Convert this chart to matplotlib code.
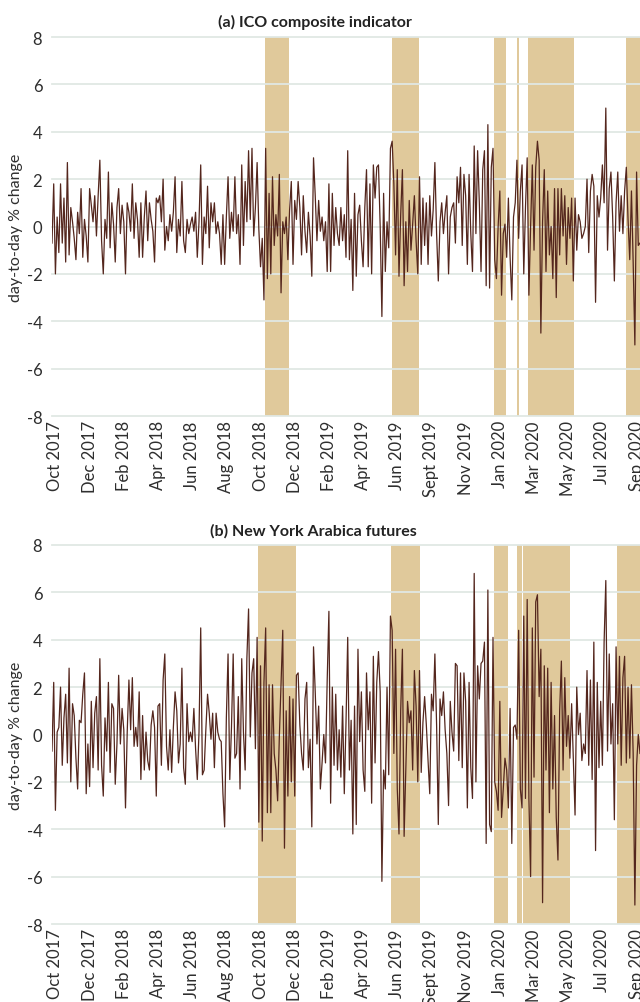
import numpy as np
import matplotlib
matplotlib.use('Agg')
import matplotlib.pyplot as plt

# x axis labels, one every 20 points of the series
tick_labels = ["Oct 2017", "Dec 2017", "Feb 2018", "Apr 2018", "Jun 2018", "Aug 2018",
               "Oct 2018", "Dec 2018", "Feb 2019", "Apr 2019", "Jun 2019", "Sept 2019",
               "Nov 2019", "Jan 2020", "Mar 2020", "May 2020", "Jul 2020", "Sep 2020"]

# (a) ICO composite indicator, day-to-day % change
ico_change = [
    -0.7, 1.8, -2.0, 0.4, -1.1, 1.8, -0.7, 1.2, -1.5, 2.7,
    -1.2, 0.8, 0.2, -0.5, -1.4, 0.6, -0.3, 1.6, -1.3, 0.3,
    -0.4, -1.5, 1.6, 0.9, 0.2, 1.3, -0.4, 1.3, 2.8, -0.6,
    -2.0, 0.3, -0.5, 2.3, -0.9, 1.0, 0.1, -1.5, 0.8, 1.6,
    -0.3, 0.9, 0.2, -2.0, 1.0, 0.6, -0.2, 1.8, -0.5, 1.0,
    0.3, -1.3, 1.0, -1.3, 0.4, 1.5, -0.6, 1.0, 0.3, -0.2,
    -1.5, 1.2, 1.0, 1.3, 0.2, 2.0, -1.0, 0.0, -0.6, 0.5,
    -0.2, 0.6, 2.1, -1.1, 0.3, -0.4, 1.9, -0.6, -1.1, 0.3,
    -0.3, 0.1, 0.4, -0.2, 0.6, -1.3, 0.2, 2.6, -1.6, 0.4,
    -0.3, 1.7, -0.9, 1.0, 0.2, 1.0, -0.3, 0.2, -0.3, -1.6,
    0.5, -1.6, 0.4, 2.1, -0.5, 0.6, -0.2, 2.1, -0.3, 0.5,
    -1.6, 2.6, -0.8, 1.9, 0.2, 3.2, 0.3, 3.3, -0.4, 0.8,
    2.7, -0.1, -1.7, -0.5, -3.1, 3.3, -2.2, 1.4, -2.0, 2.1,
    -0.8, 0.5, -0.4, 2.2, -2.8, 0.2, -0.3, 0.4, -1.4, 0.7,
    1.9, -1.6, 1.1, 0.3, 1.9, 0.8, -1.2, 1.3, -0.2, -1.1,
    0.6, -0.4, -2.1, 2.9, 1.3, -0.6, 1.1, -0.2, 0.4, -0.6,
    0.2, -1.9, 1.8, -1.9, 1.4, -0.8, 0.8, -0.3, -0.8, 0.8,
    -0.6, 0.5, -1.3, 3.2, -1.4, 0.3, -2.7, 1.4, -2.1, 0.5,
    0.9, -0.6, -1.7, 0.8, 2.4, -1.7, 1.8, -2.0, 2.6, 1.2,
    2.5, 2.6, 0.0, -3.8, 1.4, -1.9, 0.2, -0.9, 3.3, 3.6,
    1.8, -1.2, 2.4, -2.1, 0.5, 2.4, -2.5, 0.2, -1.9, 1.1,
    -1.0, 0.1, 1.3, -0.6, -2.0, 2.1, -1.6, 1.2, -0.8, 1.0,
    -1.6, 1.3, -0.4, 0.7, 2.7, -0.3, -2.3, 0.2, 1.0, -0.3,
    0.6, 1.3, -2.0, 0.4, 0.8, 1.0, -0.7, 2.1, 1.0, 2.5,
    -0.8, 2.2, 1.3, -1.6, 2.2, -0.3, -1.9, 3.4, -0.3, 3.2,
    1.0, -1.9, 2.4, 3.2, -2.5, 4.3, -2.6, 2.5, 3.3, -1.4,
    -2.2, 0.0, 1.5, -2.9, -0.3, 0.1, -1.3, 1.2, -1.3, -3.1,
    0.4, 1.0, 2.8, -0.5, 1.5, 2.6, -2.0, 0.8, 2.9, -2.9,
    0.0, 2.6, -1.0, 2.5, 3.6, 2.8, -4.5, 0.2, 2.4, -1.9,
    1.5, -1.2, 0.0, -2.2, 1.6, -3.0, 1.6, -1.2, 1.6, -0.4,
    1.3, -1.6, 0.8, -0.5, 1.2, -2.3, 1.2, -1.0, 0.5, 0.2,
    -0.5, -0.3, 0.0, 2.0, -1.1, 1.5, 2.2, 1.7, -3.2, 1.3,
    0.4, 1.2, 2.6, 1.0, 5.0, -1.0, 1.6, 2.3, 0.4, -2.3,
    1.0, 2.3, -0.2, 1.3, -0.3, 1.5, 2.5, 0.3, -1.4, 1.5,
    -1.5, -5.0, 2.3, -0.8, -0.7,
]

# (b) New York Arabica futures, day-to-day % change
arabica_change = [
    -0.7, 2.2, -3.2, 0.1, 0.3, 2.0, -1.3, 0.7, 1.7, -1.2,
    2.8, -2.0, 1.3, 0.8, -1.0, -2.3, 0.6, 0.5, 1.7, 2.6,
    -2.5, -0.4, -2.2, 1.4, -1.4, 0.9, 1.6, -1.5, 3.2, -1.3,
    -2.6, 0.7, -0.7, 2.2, -1.6, 1.3, 1.1, -2.1, -0.4, 2.5,
    -0.4, 1.1, 0.2, -3.1, 0.1, 2.3, 0.2, 2.4, -0.5, 0.3,
    -0.5, 1.8, -1.9, 0.8, -1.5, 0.1, -1.1, -1.5, 0.4, 1.0,
    0.3, -2.6, 1.2, 1.3, -1.3, 2.3, 3.4, -0.5, -1.5, 0.2,
    -1.6, 0.3, 1.8, 1.0, -1.2, -0.4, 2.8, -1.4, -2.1, 1.3,
    -0.3, 0.1, -0.3, 1.1, -0.6, -1.9, 0.1, 4.5, -1.7, -1.5,
    0.2, 1.7, 0.9, -0.2, 0.9, -1.4, 0.9, 0.1, -0.2, -0.3,
    -2.5, -3.9, 0.7, 3.4, -1.9, 0.3, 3.4, -1.0, -0.8, 1.6,
    -2.3, 3.2, 0.1, -1.5, 3.2, 5.3, -0.1, 2.6, 3.2, -0.6,
    4.1, -3.7, 2.9, -4.5, 2.2, 4.5, -3.3, 2.1, -3.3, 2.1,
    -0.8, -1.5, -2.8, -0.1, 2.1, 4.4, -4.8, 1.0, -2.6, 1.6,
    -2.0, 1.5, -2.6, 2.5, 2.6, 0.4, -0.8, -1.5, 1.5, 2.2,
    -1.4, -0.2, -3.9, 3.7, 1.8, -0.4, 1.2, -2.3, -1.2, 0.0,
    -1.2, 2.3, 5.2, -2.9, 2.0, -1.3, 1.7, -1.5, 0.2, -1.8,
    1.2, -2.5, 0.5, 4.1, -1.5, 0.6, -4.2, 1.2, -3.8, 3.6,
    -0.3, 1.8, -1.5, -2.4, 2.6, 0.2, 1.8, -2.9, 3.3, -1.2,
    2.2, 3.5, 1.8, -6.2, -1.5, -2.3, 2.0, -1.7, 5.0, 4.4,
    -0.8, 3.6, -2.3, -4.2, 1.0, 3.6, -4.3, -1.5, 1.4, 0.5,
    1.0, -1.5, 2.7, 1.2, -2.0, 2.7, -1.6, 0.5, 1.6, 0.4,
    -1.1, -2.5, 1.7, 1.0, 3.4, 0.4, -3.8, 1.5, 0.8, 1.8,
    0.2, -0.8, -3.0, 1.4, 0.1, -0.7, 3.0, 2.9, -1.1, 2.6,
    -1.4, 2.6, 1.4, -3.1, 2.2, -1.4, -2.7, 6.8, -2.0, 2.9,
    1.5, 3.0, 3.1, 3.9, -4.6, 6.1, -3.8, -4.1, 4.1, -2.0,
    -2.4, -3.2, 1.4, -3.5, -2.3, -1.0, -1.5, -3.1, 1.1, -4.6,
    0.3, 0.4, -0.2, 4.4, -2.3, -3.1, 5.0, -2.7, 5.7, -2.7,
    -6.0, 4.5, -1.8, 5.6, 5.9, 1.6, 3.6, -7.1, 2.9, -1.5,
    2.8, -3.3, 2.2, -2.3, 0.8, -3.5, -5.3, 1.0, 3.1, -1.5,
    2.4, -0.5, 0.8, -1.0, 1.3, -1.0, -3.4, 2.0, 0.0, 0.9,
    -1.1, -0.4, -0.8, 2.7, -1.3, 2.3, -1.9, 3.9, -4.9, 2.2,
    -1.4, 1.4, -1.3, 3.9, 6.5, -0.7, 3.4, -0.4, 1.3, -3.6,
    3.7, -0.4, 3.3, -1.3, 2.4, 3.3, -1.2, 2.0, -1.0, 2.1,
    -0.8, -7.2, -1.3, 0.0, -0.8,
]

# shaded periods, as (first, last) position in the series
ico_periods = [(124.6, 138.6), (198.8, 214.6), (258.5, 265.5), (271.9, 273.1),
               (278.4, 305.1), (335.7, 360)]
arabica_periods = [(120.5, 142.7), (198.2, 215.2), (258.5, 266.7), (271.9, 274.7),
                   (275.4, 290.6), (291.0, 302.9), (330.4, 360)]

plt.rcParams['font.family'] = ['Lato', 'DejaVu Sans']
plt.rcParams['axes.unicode_minus'] = False

LINE = '#54261d'
SHADE = '#e0c99b'
GRID = '#e1e8e4'
TEXT = '#2e2e2e'


def draw_panel(ax, vals, periods):
    x = np.arange(len(vals))
    for a, b in periods:
        ax.axvspan(a, b, color=SHADE, lw=0, zorder=0.2)
    ax.plot(x, vals, color=LINE, lw=0.9, zorder=2)
    ax.set_xlim(0, 344)
    ax.set_ylim(-8, 8)
    ax.set_yticks(range(-8, 9, 2))
    ax.set_xticks(2 + 20 * np.arange(len(tick_labels)))
    ax.set_xticklabels(tick_labels, rotation=90)
    ax.set_axisbelow(True)
    ax.grid(axis='y', color=GRID, lw=1.3)
    ax.grid(axis='x', visible=False)
    for gl in ax.get_ygridlines():
        gl.set_clip_on(False)
    for s in ax.spines.values():
        s.set_visible(False)
    ax.tick_params(axis='both', length=0, labelsize=12, colors=TEXT)
    ax.tick_params(axis='y', pad=7)
    ax.tick_params(axis='x', pad=3)


fig = plt.figure(figsize=(6.4, 10.03), dpi=100)
ax1 = fig.add_axes([52 / 640, 1 - 417 / 1003, 588 / 640, 379 / 1003])
ax2 = fig.add_axes([52 / 640, 1 - 925 / 1003, 588 / 640, 379 / 1003])

draw_panel(ax1, ico_change, ico_periods)
draw_panel(ax2, arabica_change, arabica_periods)

fig.text(315 / 640, 1 - 22 / 1003, '(a) ICO composite indicator', ha='center', va='center',
         fontsize=11.5, fontweight='bold', color='#222222')
fig.text(313 / 640, 1 - 531 / 1003, '(b) New York Arabica futures', ha='center', va='center',
         fontsize=11.5, fontweight='bold', color='#222222')
fig.text(16 / 640, 1 - 228 / 1003, 'day-to-day % change', rotation=90, ha='center', va='center',
         fontsize=11.5, color=TEXT)
fig.text(16 / 640, 1 - 736 / 1003, 'day-to-day % change', rotation=90, ha='center', va='center',
         fontsize=11.5, color=TEXT)

fig.savefig('out.png', dpi=100)
